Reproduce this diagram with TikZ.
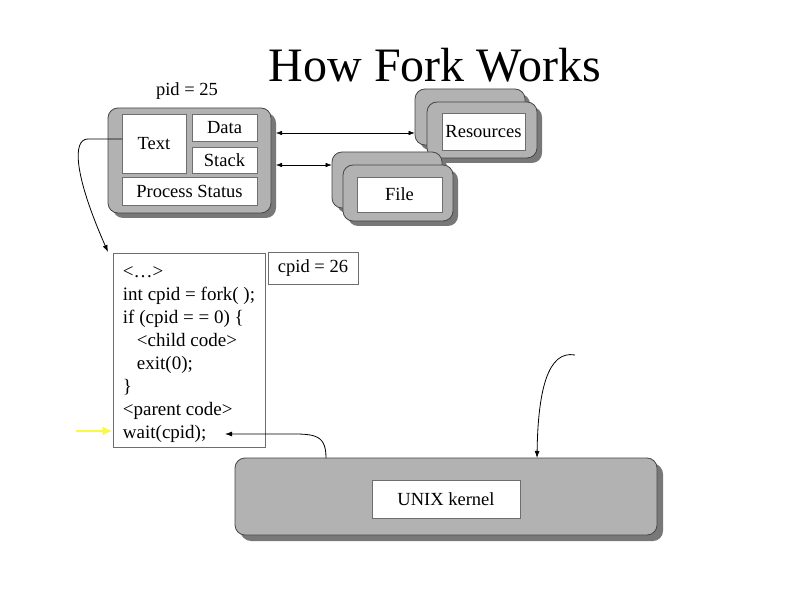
\documentclass[tikz,border=0pt]{standalone}
\usepackage{fontspec}
\setmainfont{Liberation Serif}
\usetikzlibrary{arrows.meta,shadows}
\definecolor{boxgray}{RGB}{178,178,178}
\definecolor{shadowgray}{RGB}{120,120,120}
\definecolor{edgegray}{RGB}{70,70,70}
\definecolor{linegray}{RGB}{110,110,110}
\definecolor{arrowyellow}{RGB}{252,248,70}
\tikzset{
  graybox/.style={draw=edgegray, line width=0.8pt, fill=boxgray, rounded corners=10pt,
    inner sep=0pt,
    drop shadow={shadow xshift=5pt, shadow yshift=-5pt, fill=shadowgray, opacity=1}},
  whitebox/.style={draw=linegray, line width=0.8pt, fill=white, inner sep=0pt, font=\fontsize{18.5}{22}\selectfont},
  conn/.style={draw=black, line width=0.8pt, -{Latex[length=7pt,width=5pt]}},
  dconn/.style={draw=black, line width=0.5pt, {Latex[length=6pt,width=4.5pt]}-{Latex[length=6pt,width=4.5pt]}},
  lbl/.style={inner sep=0pt, font=\fontsize{18.5}{22}\selectfont}
}
\begin{document}
\begin{tikzpicture}[x=1pt,y=-1pt]
\useasboundingbox (0,0) rectangle (802,612);
\fill[white] (0,0) rectangle (802,612);

% title
\node[anchor=base, inner sep=0pt, font=\fontsize{48}{56}\selectfont] (title) at (435,82) {How Fork Works};

% process box
\node[lbl, anchor=base] (pidlbl) at (187,96) {pid = 25};
\node[graybox, minimum width=163pt, minimum height=105pt] (proc) at (189.5,160.5) {};
\node[whitebox, minimum width=64pt, minimum height=59pt] (text) at (154,143.5) {Text};
\node[whitebox, minimum width=65pt, minimum height=27pt] (data) at (224.5,127.5) {Data};
\node[whitebox, minimum width=65pt, minimum height=26pt] (stack) at (224.5,160) {Stack};
\node[whitebox, minimum width=135pt, minimum height=28pt] (pstat) at (189.5,191) {Process Status};

% resources
\node[graybox, minimum width=110pt, minimum height=56pt] (resback) at (470,117) {};
\node[graybox, minimum width=110pt, minimum height=56pt] (resfront) at (482,130) {};
\node[whitebox, minimum width=83pt, minimum height=37pt] (res) at (483.5,131.5) {Resources};

% file
\node[graybox, minimum width=110pt, minimum height=56pt] (fileback) at (387,180) {};
\node[graybox, minimum width=110pt, minimum height=56pt] (filefront) at (398,193) {};
\node[whitebox, minimum width=85pt, minimum height=35pt] (file) at (399.5,194.5) {File};

% double arrows
\coordinate (a1) at (276,133);
\coordinate (a2) at (276,165);
\draw[dconn] (a1) -- (a1 -| resback.west);
\draw[dconn] (a2) -- (a2 -| fileback.west);

% code box
\node[draw=linegray, line width=0.8pt, fill=white, minimum width=152pt, minimum height=194pt,
      inner sep=0pt, align=left,
      font=\fontsize{19}{23}\selectfont] (code) at (189,350) {%
\rule{0pt}{20pt}\textless\ldots\textgreater\\
int cpid = fork( );\\
if (cpid = = 0) \{\\
\hspace*{14pt}\textless child code\textgreater\\
\hspace*{14pt}exit(0);\\
\}\\
\textless parent code\textgreater\\
wait(cpid);};
\node[whitebox, minimum width=90pt, minimum height=32pt] (cpid) at (313,268) {cpid = 26};

% kernel
\node[graybox, minimum width=422pt, minimum height=77pt,
      drop shadow={shadow xshift=6pt, shadow yshift=-6pt, fill=shadowgray, opacity=1}] (kernel) at (446,496.5) {};
\node[whitebox, minimum width=148pt, minimum height=38pt] (unix) at (446,499) {UNIX kernel};

% curved arrow from Text to code box
\coordinate (t1) at (122,139);
\coordinate (c1) at (108,252);
\draw[conn] (t1) -- (88,139) .. controls (72,139) and (74,175) .. (c1);

% yellow arrow
\coordinate (y1) at (76,431);
\draw[draw=arrowyellow, line width=2pt, -{Latex[length=10pt,width=9pt]}] (y1) -- (y1 -| code.west);

% kernel to wait(cpid)
\coordinate (k1) at (326,458);
\coordinate (w1) at (225,434);
\draw[conn] (k1) .. controls (326,432) and (312,434) .. (280,434) -- (w1);

% free arrow into kernel
\coordinate (f1) at (575,355);
\coordinate (k2) at (537,458);
\draw[conn] (f1) .. controls (548,350) and (538,390) .. (k2);
\end{tikzpicture}
\end{document}
